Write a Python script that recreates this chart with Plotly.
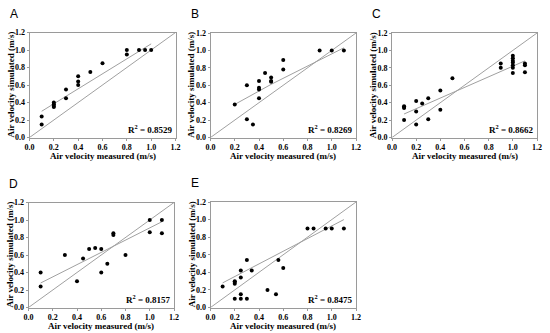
import plotly.graph_objects as go

# ---------------- data ----------------
panel_labels = ["A", "B", "C", "D", "E"]
r2_labels = ["0.8529", "0.8269", "0.8662", "0.8157", "0.8475"]
x_title = "Air velocity measured (m/s)"
y_title = "Air velocity simulated (m/s)"

a_measured = [0.1, 0.1, 0.2, 0.2, 0.2, 0.2, 0.3, 0.3, 0.4, 0.4, 0.4, 0.5, 0.6, 0.8, 0.8, 0.9, 0.95, 1.0]
a_simulated = [0.24, 0.15, 0.40, 0.38, 0.36, 0.35, 0.55, 0.45, 0.70, 0.64, 0.60, 0.75, 0.85, 1.0, 0.95, 1.0, 1.0, 1.0]
a_fit_x = [0.1, 1.0]
a_fit_y = [0.30, 1.07]

b_measured = [0.2, 0.3, 0.3, 0.35, 0.4, 0.4, 0.4, 0.4, 0.45, 0.5, 0.5, 0.5, 0.6, 0.6, 0.9, 1.0, 1.1]
b_simulated = [0.38, 0.60, 0.21, 0.15, 0.65, 0.57, 0.55, 0.45, 0.74, 0.69, 0.65, 0.64, 0.89, 0.78, 1.0, 1.0, 1.0]
b_fit_x = [0.2, 0.5, 1.1]
b_fit_y = [0.38, 0.61, 1.03]

c_measured = [0.1, 0.1, 0.1, 0.1, 0.2, 0.2, 0.2, 0.25, 0.3, 0.3, 0.4, 0.4, 0.5, 0.9, 0.9,
              1.0, 1.0, 1.0, 1.0, 1.0, 1.0, 1.0, 1.1, 1.1, 1.1]
c_simulated = [0.36, 0.35, 0.34, 0.20, 0.42, 0.30, 0.15, 0.39, 0.45, 0.21, 0.54, 0.32, 0.68, 0.85, 0.80,
               0.94, 0.91, 0.88, 0.86, 0.83, 0.80, 0.74, 0.85, 0.83, 0.75]
c_fit_x = [0.1, 1.1]
c_fit_y = [0.27, 0.88]

d_measured = [0.1, 0.1, 0.3, 0.4, 0.45, 0.5, 0.55, 0.6, 0.6, 0.65, 0.7, 0.7, 0.8, 1.0, 1.0, 1.1, 1.1]
d_simulated = [0.40, 0.24, 0.60, 0.30, 0.56, 0.67, 0.68, 0.67, 0.40, 0.50, 0.85, 0.83, 0.60, 1.0, 0.86, 1.0, 0.85]
d_fit_x = [0.1, 1.1]
d_fit_y = [0.28, 0.98]

e_measured = [0.1, 0.2, 0.2, 0.2, 0.2, 0.25, 0.25, 0.25, 0.25, 0.3, 0.3, 0.34, 0.47, 0.54, 0.56, 0.6,
              0.8, 0.85, 0.95, 1.0, 1.1]
e_simulated = [0.24, 0.30, 0.29, 0.27, 0.10, 0.42, 0.34, 0.15, 0.10, 0.54, 0.10, 0.42, 0.20, 0.15, 0.54, 0.45,
               0.90, 0.90, 0.90, 0.90, 0.90]
e_fit_x = [0.1, 1.1]
e_fit_y = [0.28, 1.0]

identity_line = [0.0, 1.2]
tick_values = [0.0, 0.2, 0.4, 0.6, 0.8, 1.0, 1.2]

panels = [
    (a_measured, a_simulated, a_fit_x, a_fit_y),
    (b_measured, b_simulated, b_fit_x, b_fit_y),
    (c_measured, c_simulated, c_fit_x, c_fit_y),
    (d_measured, d_simulated, d_fit_x, d_fit_y),
    (e_measured, e_simulated, e_fit_x, e_fit_y),
]

# ---------------- layout (pixel boxes of each plot area) ----------------
W, H = 550, 333
boxes = [  # left, right, top, bottom in pixels
    (29.5, 175.5, 32.5, 137.5),
    (210.5, 356.0, 33.0, 137.5),
    (392.0, 537.0, 33.0, 137.5),
    (28.5, 174.0, 202.5, 307.5),
    (210.5, 356.0, 202.0, 307.5),
]

serif = "Times New Roman, Liberation Serif, serif"
line_gray = "#a0a0a0"
frame_gray = "#9a9a9a"

fig = go.Figure()
layout_axes = {}
annotations = []

for i, ((mx, sy, fx, fy), (l, r, t, b)) in enumerate(zip(panels, boxes)):
    n = i + 1
    xa = "x" if n == 1 else f"x{n}"
    ya = "y" if n == 1 else f"y{n}"
    fig.add_trace(go.Scatter(x=identity_line, y=identity_line, mode="lines",
                             line=dict(color=line_gray, width=1), xaxis=xa, yaxis=ya,
                             showlegend=False, hoverinfo="skip"))
    fig.add_trace(go.Scatter(x=fx, y=fy, mode="lines",
                             line=dict(color=line_gray, width=1), xaxis=xa, yaxis=ya,
                             showlegend=False, hoverinfo="skip"))
    fig.add_trace(go.Scatter(x=mx, y=sy, mode="markers",
                             marker=dict(color="black", size=4),
                             xaxis=xa, yaxis=ya, showlegend=False))

    common = dict(range=[0, 1.2], tickvals=tick_values, tickformat=".1f",
                  showline=True, linecolor=frame_gray, linewidth=1, mirror=True,
                  ticks="outside", ticklen=2, tickcolor=frame_gray, showgrid=False,
                  zeroline=False, fixedrange=True, automargin=False,
                  tickfont=dict(family=serif, size=8, color="black", weight="bold"))
    xkey = "xaxis" if n == 1 else f"xaxis{n}"
    ykey = "yaxis" if n == 1 else f"yaxis{n}"
    layout_axes[xkey] = dict(common, domain=[l / W, r / W], anchor=ya)
    layout_axes[ykey] = dict(common, domain=[1 - b / H, 1 - t / H], anchor=xa)

    # axis titles
    annotations.append(dict(text=f"<b>{x_title}</b>", xref="paper", yref="paper",
                            x=(l + r) / 2 / W, y=1 - (b + 18) / H,
                            xanchor="center", yanchor="middle", showarrow=False,
                            font=dict(family=serif, size=9, color="black")))
    annotations.append(dict(text=f"<b>{y_title}</b>", xref="paper", yref="paper",
                            x=(l - 19) / W, y=1 - (t + b) / 2 / H, textangle=-90,
                            xanchor="center", yanchor="middle", showarrow=False,
                            font=dict(family=serif, size=9, color="black")))
    # R^2 text
    annotations.append(dict(text=f"<b>R<sup>2</sup> = {r2_labels[i]}</b>",
                            xref=f"{xa} domain", yref=f"{ya} domain",
                            x=0.995, y=0.005, xanchor="right", yanchor="bottom",
                            showarrow=False,
                            font=dict(family=serif, size=9, color="black")))
    # panel letter
    annotations.append(dict(text=panel_labels[i], xref="paper", yref="paper",
                            x=(l - 22) / W, y=1 - (t - 19) / H,
                            xanchor="left", yanchor="middle", showarrow=False,
                            font=dict(family="Liberation Sans, Arial, sans-serif", size=12, color="black")))

fig.update_layout(width=W, height=H, margin=dict(l=0, r=0, t=0, b=0),
                  paper_bgcolor="white", plot_bgcolor="white",
                  annotations=annotations, **layout_axes)

fig.write_html("out.html", config={"displayModeBar": False},
               post_script="document.body.style.margin='0';document.body.style.overflow='hidden';")
